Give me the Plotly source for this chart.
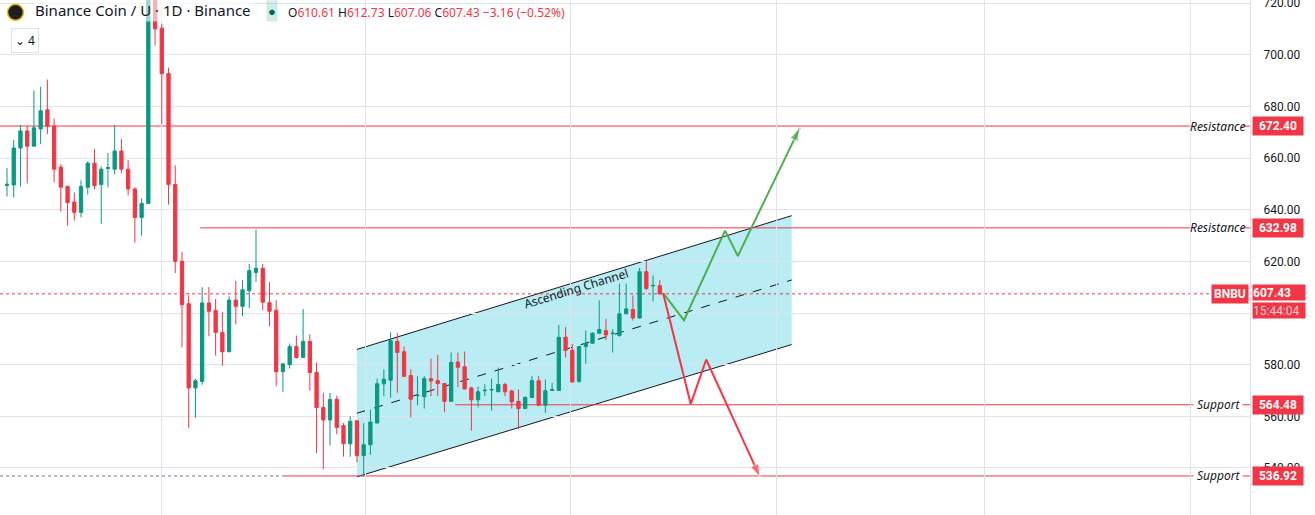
import plotly.graph_objects as go

opens = [649.4,649.6,663.9,670.5,664.6,671.3,678.7,672.4,656.5,649,643,639,648.7,658,649.8,656,655.7,662.7,655.7,648,
         637,642.4,722,710.3,692.7,649.8,620,603.6,571,573.5,603.9,601,592.5,585,605,602.6,608.6,615.7,617.3,604,
         601,577.3,580,587,582.8,589,577,563.4,558.6,566.6,556.4,549.4,558.3,544.8,549,557.4,572.6,574,589,585,
         575.8,568,567.6,574.6,573.8,572.7,565.8,581,579.2,571,566.4,569.9,570.2,569.5,572.3,569.8,565.8,563,567.3,573.8,
         564.3,570,570,590.6,585.6,573.6,587,588.3,592.2,593.2,592,591.3,599.7,601.4,598.1,616,610.5,610.61]
closes = [649.9,663.9,670.5,664.6,671.7,678.3,672.4,655.7,648.7,642.8,639,649,658,649.4,655.7,656.3,662.7,655.7,648,637,
          642.4,724,710,692.7,649.8,620,603.2,571,573.8,603.9,600.7,592.5,585,605,602.6,609,616.4,617.3,604.2,600.7,
          577.3,580.3,587,582.8,589,577,563.4,558.6,566.5,555.7,549.4,558.1,544.8,549,557.8,572.6,574.4,589.3,584.7,575.5,
          566.6,568.2,574.6,573.7,572.7,565.8,580.9,579,570.6,566.4,569.5,570.1,570.4,572.3,569.5,565.6,563,567.3,573.8,564.3,
          569.9,570.4,590.6,585.6,573.3,587,588.3,592.2,593.6,591.5,592.2,599.7,601.6,598.1,616,609.5,610.7,607.43]
highs = [656.1,667,672.8,672.4,686.1,687.6,690.4,675.2,657.6,649.4,646.7,651.4,658.8,663.5,656.8,661.9,672.8,667.4,659.2,648.7,
         644.4,728,728,712,695,657.2,623.7,606.9,574.5,610,610,605.4,600.3,606.5,612.4,612.8,619,632.3,619,612,
         605,580.8,588.2,591.3,601.5,591.7,580.8,569.1,569.1,568,557.4,560,558.3,557.4,562.6,574.6,578.2,592.5,592.2,587,
         578.2,575.6,575.6,582.4,583.8,573,584.7,584.7,585.1,571.5,571.5,572.4,574.6,578.9,573,570.3,570.4,567.8,575.6,575.6,
         574.3,573,595.4,594.5,588,587.3,593.2,592.5,604.9,597.7,593.8,611.4,611.4,606.8,617.5,620.1,614.6,612.73]
lows = [645.1,644.8,649,650.2,664.6,665.4,669.3,650.6,639.3,633.8,635.8,637,645.9,647.9,634.6,648.7,653.7,654.1,645.5,627.2,
        630,642.4,703.6,673.2,642,615.5,586.7,555.5,559.4,572.2,591,583.5,579.6,585,595.6,598.8,601.9,612,601.1,594.9,
        571.8,569.5,578.5,582.4,582.8,569.9,545.7,539.5,548.8,553.1,544.4,544.4,542.2,536.6,545.1,557.4,567.8,567.2,569.1,575.2,
        559.6,564.3,563,567.8,567.8,561.6,566.1,571.3,570.4,554.4,563.5,567.8,562.2,570,567.8,563,555.2,563.5,567.8,563.9,
        561.3,570.4,570.4,582.8,573,573,580.4,588.6,591.9,589.5,584.7,590.8,599.7,597.1,597.7,608.8,604.5,607.06]
idx = list(range(len(opens)))

price_ticks = [520, 540, 560, 580, 600, 620, 640, 660, 680, 700, 720]
date_grid = [22.9, 53.2, 83.7, 114.4, 145.3, 175.9]
levels = [("Resistance", 672.40, -1.04), ("Resistance", 632.98, 28.7), ("Support", 564.48, 66.6), ("Support", 536.92, 41.0)]
last_price = 607.43
channel_x = [52.0, 116.6]
channel_upper = [585.9, 637.7]
channel_lower = [536.6, 587.8]
channel_mid = [561.2, 612.8]
green_x = [97.5, 100.6, 106.7, 108.6, 117.8]
green_y = [607.7, 597.2, 631.9, 622.1, 671.7]
red_x = [97.5, 101.6, 103.9, 111.9]
red_y = [607.7, 564.8, 582.0, 536.4]

RED = "#f23645"
GREEN = "#089981"
XR = [-1.04, 184.7]

fig = go.Figure()
shapes = []
shapes.append(dict(type="path", layer="below", xref="x", yref="y",
                   path=(f"M {channel_x[0]},{channel_upper[0]} L {channel_x[1]},{channel_upper[1]} "
                         f"L {channel_x[1]},{channel_lower[1]} L {channel_x[0]},{channel_lower[0]} Z"),
                   fillcolor="rgba(128,222,234,0.55)", line=dict(width=0)))
for ys, dash in [(channel_upper, "solid"), (channel_lower, "solid"), (channel_mid, "dash")]:
    shapes.append(dict(type="line", layer="below", xref="x", yref="y", x0=channel_x[0], x1=channel_x[1],
                       y0=ys[0], y1=ys[1], line=dict(color="#131722", width=1, dash=dash)))
for name, val, x0 in levels:
    shapes.append(dict(type="line", layer="below", xref="x", yref="y", x0=x0, x1=176.3, y0=val, y1=val,
                       line=dict(color=RED, width=1)))
    shapes.append(dict(type="line", layer="below", xref="x", yref="y", x0=183.6, x1=XR[1], y0=val, y1=val,
                       line=dict(color=RED, width=1)))
shapes.append(dict(type="line", layer="below", xref="x", yref="y", x0=XR[0], x1=41.0, y0=536.92, y1=536.92,
                   line=dict(color="#787b86", width=1, dash="dot")))
shapes.append(dict(type="line", layer="below", xref="x", yref="y", x0=XR[0], x1=179.3, y0=last_price, y1=last_price,
                   line=dict(color=RED, width=1, dash="dot")))
shapes.append(dict(type="circle", xref="paper", yref="paper", xsizemode="pixel", ysizemode="pixel",
                   xanchor=0.0124, yanchor=0.976, x0=-8, x1=8, y0=-8, y1=8,
                   fillcolor="#1e1e1e", line=dict(color="#f0b90b", width=1.5)))

fig.add_trace(go.Candlestick(x=idx, open=opens, high=highs, low=lows, close=closes,
                             increasing=dict(line=dict(color=GREEN, width=1), fillcolor=GREEN),
                             decreasing=dict(line=dict(color=RED, width=1), fillcolor=RED),
                             whiskerwidth=0))

fig.add_trace(go.Scatter(x=green_x, y=green_y, mode="lines+markers", line=dict(color="#4caf50", width=2),
                         marker=dict(symbol="arrow", angleref="previous", size=[0, 0, 0, 0, 14], color="#4caf50")))
fig.add_trace(go.Scatter(x=red_x, y=red_y, mode="lines+markers", line=dict(color=RED, width=2),
                         marker=dict(symbol="arrow", angleref="previous", size=[0, 0, 0, 14], color=RED)))

ann = []
for name, val, x0 in levels:
    ann.append(dict(x=180, y=val, xref="x", yref="y", text=f"<i>{name}</i>", showarrow=False,
                    font=dict(size=12, color="#131722", family="Noto Sans")))
    ann.append(dict(x=1.0, y=val, xref="paper", yref="y", xanchor="left", text=f"<b>{val:.2f}</b>", showarrow=False,
                    bgcolor=RED, font=dict(size=12, color="white", family="Roboto"), xshift=2, borderpad=2, width=46))
ann.append(dict(x=1.0, y=last_price, xref="paper", yref="y", xanchor="left", yanchor="bottom",
                text="<b>607.43</b>", showarrow=False, align="left",
                bgcolor=RED, font=dict(size=12, color="white", family="Roboto"), xshift=2, yshift=-7,
                borderpad=0, width=52, height=15))
ann.append(dict(x=1.0, y=last_price, xref="paper", yref="y", xanchor="left", yanchor="top",
                text="15:44:04", showarrow=False, align="left",
                bgcolor=RED, font=dict(size=12, color="#fcd0d4", family="Roboto"), xshift=2, yshift=-8,
                borderpad=0, width=52, height=15))
ann.append(dict(x=1.0, y=last_price, xref="paper", yref="y", xanchor="right", text="<b>BNBU</b>", showarrow=False,
                bgcolor=RED, font=dict(size=12, color="white", family="Roboto"), xshift=-1, borderpad=2))
ann.append(dict(x=84.5, y=609.5, xref="x", yref="y", text="Ascending Channel", showarrow=False, textangle=-17,
                font=dict(size=12, color="#131722", family="Noto Sans")))
ann.append(dict(x=0.026, y=1.0, xref="paper", yref="paper", xanchor="left", yanchor="top", yshift=2,
                text="Binance Coin / U · 1D · Binance", showarrow=False,
                font=dict(size=15, color="#131722", family="Noto Sans"), bgcolor="rgba(255,255,255,0.6)"))
ann.append(dict(x=0.2176, y=1.0, xref="paper", yref="paper", xanchor="center", yanchor="top", yshift=0,
                text="●", showarrow=False, font=dict(size=13, color="#006b56"),
                bgcolor="rgba(8,153,129,0.18)", borderpad=1))
ohlc = ("<span style='color:#131722'>O</span>610.61 <span style='color:#131722'>H</span>612.73 "
        "<span style='color:#131722'>L</span>607.06 <span style='color:#131722'>C</span>607.43 −3.16 (−0.52%)")
ann.append(dict(x=0.229, y=1.0, xref="paper", yref="paper", xanchor="left", yanchor="top", yshift=-2,
                text=ohlc, showarrow=False, font=dict(size=12, color=RED, family="Noto Sans")))
ann.append(dict(x=0.0085, y=0.945, xref="paper", yref="paper", xanchor="left", yanchor="top",
                text="⌄ 4", showarrow=False, font=dict(size=12, color="#131722", family="Noto Sans"),
                bordercolor="#e0e3eb", borderwidth=1, bgcolor="white", borderpad=3))

fig.update_layout(
    width=1315, height=515, margin=dict(l=0, r=65, t=0, b=0),
    paper_bgcolor="white", plot_bgcolor="white", showlegend=False, annotations=ann, shapes=shapes,
    xaxis=dict(range=XR, tickvals=date_grid, showticklabels=False, showgrid=True, gridcolor="#e0e3eb",
               zeroline=False, rangeslider=dict(visible=False), fixedrange=True, automargin=False),
    yaxis=dict(range=[521.8, 721.2], side="right", tickvals=price_ticks, automargin=False,
               ticktext=[f"{v:.2f}" for v in price_ticks], showgrid=True, gridcolor="#e0e3eb",
               zeroline=False, ticks="", ticklabelstandoff=10, ticklabeloverflow="allow",
               tickfont=dict(size=12, color="#131722", family="Roboto"), showline=True, linecolor="#e0e3eb"),
)
fig.write_html("out.html", config={"displayModeBar": False},
               post_script="document.body.style.margin='0';document.body.style.overflow='hidden';")
